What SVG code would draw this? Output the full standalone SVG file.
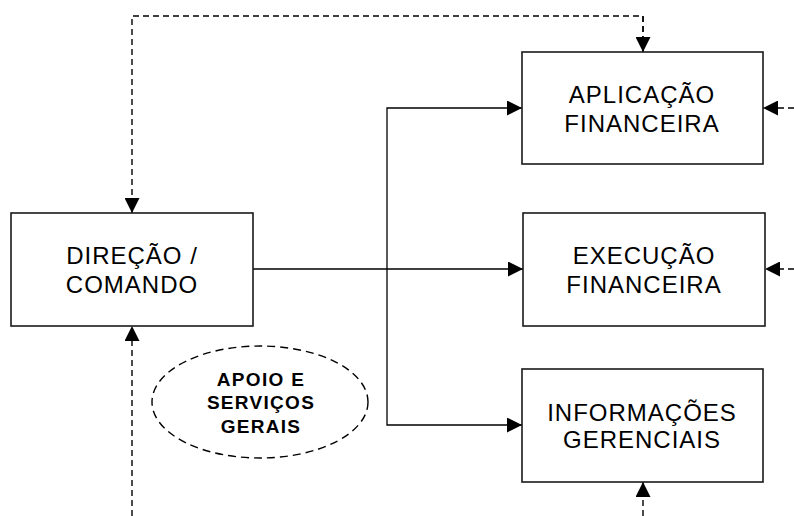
<svg xmlns="http://www.w3.org/2000/svg" width="794" height="516" viewBox="0 0 794 516">
  <style>
    .box { fill: #fff; stroke: #1a1a1a; stroke-width: 1.6; }
    .lbl { font-family: "Liberation Sans", Arial, sans-serif; font-size: 24px; letter-spacing: 1px; text-anchor: middle; fill: #000; }
    .lblb { font-family: "Liberation Sans", Arial, sans-serif; font-size: 19px; font-weight: bold; letter-spacing: 1.3px; text-anchor: middle; fill: #000; }
    .solid { fill: none; stroke: #000; stroke-width: 1.3; }
    .dash { fill: none; stroke: #000; stroke-width: 1.4; stroke-dasharray: 6 4; }
    .oval { fill: #fff; stroke: #000; stroke-width: 1.4; stroke-dasharray: 8 5; }
  </style>
  <defs>
    <marker id="arrow" viewBox="0 0 15 15" refX="15" refY="7.5" markerWidth="15" markerHeight="15" markerUnits="userSpaceOnUse" orient="auto">
      <path d="M0,0 L15,7.5 L0,15 Z" fill="#000"/>
    </marker>
  </defs>

  <rect width="794" height="516" fill="#fff"/>

  <g id="connectors">
    <!-- feedback loop over the top -->
    <path class="dash" d="M643,52 V16 H132 V213" marker-end="url(#arrow)"/>
    <path class="dash" d="M643,16 V52" marker-end="url(#arrow)"/>
    <!-- inputs from the bottom -->
    <path class="dash" d="M132,516 V326" marker-end="url(#arrow)"/>
    <path class="dash" d="M643,516 V482" marker-end="url(#arrow)"/>
    <!-- inputs from the right edge -->
    <path class="dash" d="M794,108 H763" marker-end="url(#arrow)"/>
    <path class="dash" d="M794,269 H765" marker-end="url(#arrow)"/>
    <!-- command distribution -->
    <path class="solid" d="M253,269 H523" marker-end="url(#arrow)"/>
    <path class="solid" d="M387,269 V108 H522" marker-end="url(#arrow)"/>
    <path class="solid" d="M387,269 V425 H522" marker-end="url(#arrow)"/>
  </g>

  <g id="direcao">
    <rect class="box" x="11" y="213" width="242" height="113"/>
    <text class="lbl" x="132" y="264">DIREÇÃO /</text>
    <text class="lbl" x="132" y="293">COMANDO</text>
  </g>

  <g id="aplicacao">
    <rect class="box" x="522" y="52" width="241" height="112"/>
    <text class="lbl" x="642" y="103">APLICAÇÃO</text>
    <text class="lbl" x="642" y="132">FINANCEIRA</text>
  </g>

  <g id="execucao">
    <rect class="box" x="523" y="213" width="242" height="113"/>
    <text class="lbl" x="644" y="264">EXECUÇÃO</text>
    <text class="lbl" x="644" y="293">FINANCEIRA</text>
  </g>

  <g id="informacoes">
    <rect class="box" x="522" y="369" width="241" height="113"/>
    <text class="lbl" x="642" y="421">INFORMAÇÕES</text>
    <text class="lbl" x="642" y="448">GERENCIAIS</text>
  </g>

  <g id="apoio">
    <ellipse class="oval" cx="260" cy="402" rx="108" ry="56"/>
    <text class="lblb" x="261" y="386">APOIO E</text>
    <text class="lblb" x="261" y="409">SERVIÇOS</text>
    <text class="lblb" x="261" y="433">GERAIS</text>
  </g>
</svg>
